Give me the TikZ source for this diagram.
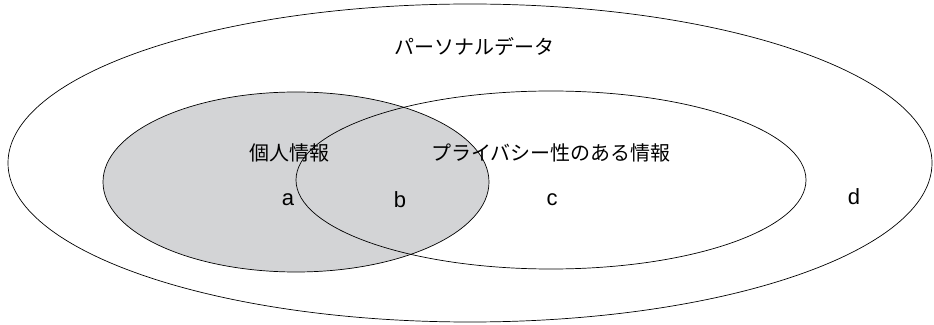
\documentclass[tikz,border=0pt]{standalone}
\usepackage{fontspec}
\usepackage{xcolor}
\usepackage{tikz}
\setmainfont{Liberation Sans}
\newfontfamily\jpfont{Noto Sans CJK JP}
\definecolor{pigray}{RGB}{211,212,214}

\begin{document}
\begin{tikzpicture}[x=1pt,y=1pt,
        jplabel/.style={font=\jpfont\fontsize{20}{24}\selectfont, inner sep=0pt},
        letter/.style={font=\fontsize{22}{26}\selectfont, inner sep=0pt}]
        \useasboundingbox (0,0) rectangle (934,324);

        \fill[pigray] (296,142) ellipse [x radius=193, y radius=90];
        \draw[line width=0.7pt] (470,161) ellipse [x radius=462, y radius=159];
        \draw[line width=0.7pt] (296,142) ellipse [x radius=193, y radius=90];
        \draw[line width=0.7pt] (551,144) ellipse [x radius=255, y radius=89];

        \node (personal) at (474,277) [jplabel] {パーソナルデータ};
        \node (kojin) at (289,171) [jplabel] {個人情報};
        \node (privacy) at (551,171) [jplabel] {プライバシー性のある情報};

        \node (a) at (288,124) [letter] {a};
        \node (b) at (400,124) [letter] {b};
        \node (c) at (552,124) [letter] {c};
        \node (d) at (854,127) [letter] {d};
    \end{tikzpicture}
\end{document}
